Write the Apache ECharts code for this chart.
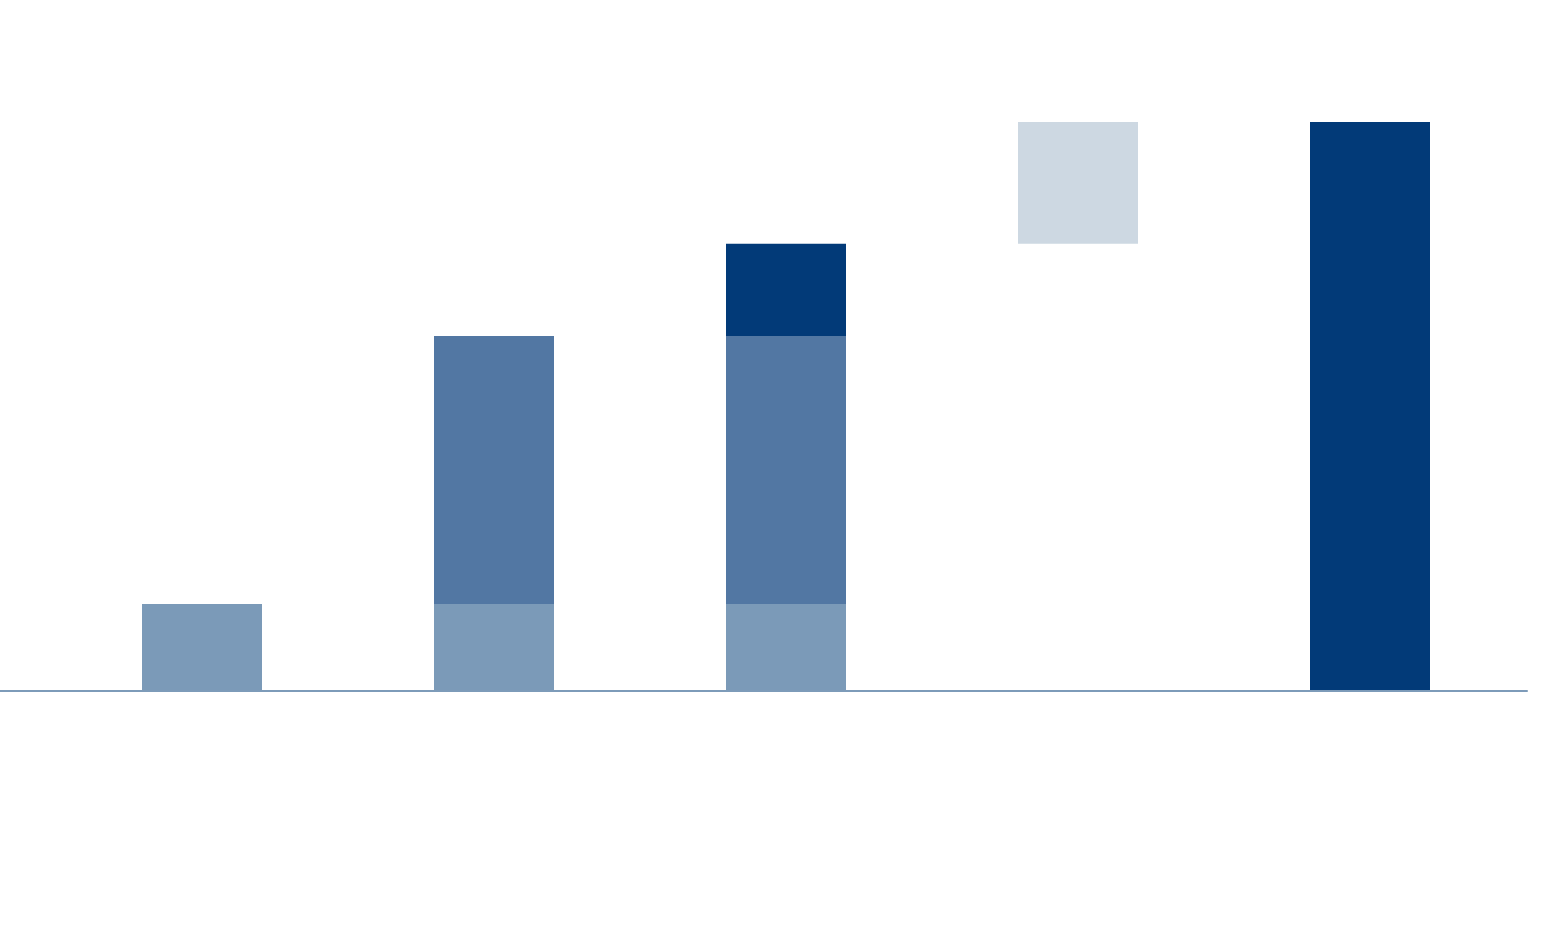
<!DOCTYPE html>
<html>
<head>
<meta charset="utf-8">
<title>Waterfall</title>
<script src="https://cdn.jsdelivr.net/npm/echarts@6/dist/echarts.min.js"></script>
<style>
  html, body { margin: 0; padding: 0; background: #fff; }
  #main { width: 1562px; height: 940px; }
</style>
</head>
<body>
<div id="main"></div>
<script>
// categories (no labels shown in the picture)
var categories = ['A', 'B', 'C', 'D', 'E'];
// invisible base under floating bars
var baseData = [0, 0, 0, 7.86, 0];
// stacked pieces
var lightData = [1.53, 1.53, 1.53, '-', '-'];
var midData = ['-', 4.71, 4.71, '-', '-'];
var darkData = ['-', '-', 1.62, '-', 10];
var greyData = ['-', '-', '-', 2.14, '-'];

var chart = echarts.init(document.getElementById('main'), null, { renderer: 'canvas' });

var option = {
  animation: false,
  backgroundColor: '#ffffff',
  grid: [
    { left: 56, right: 46, top: 122, bottom: 249 },
    // only carries the long baseline
    { left: 0, right: 35, top: 122, bottom: 249 }
  ],
  xAxis: [
    {
      type: 'category',
      data: categories,
      gridIndex: 0,
      axisLine: { show: false },
      axisTick: { show: false },
      axisLabel: { show: false }
    },
    {
      type: 'category',
      data: [''],
      gridIndex: 1,
      z: 10,
      axisLine: { show: true, lineStyle: { color: '#7d9bb9', width: 2 } },
      axisTick: { show: false },
      axisLabel: { show: false }
    }
  ],
  yAxis: [
    { type: 'value', gridIndex: 0, min: 0, max: 10, show: false, splitLine: { show: false } },
    { type: 'value', gridIndex: 1, min: 0, max: 10, show: false, splitLine: { show: false } }
  ],
  series: [
    {
      name: 'base', type: 'bar', stack: 'w', barWidth: 120,
      itemStyle: { color: 'transparent' }, data: baseData
    },
    {
      name: 'light', type: 'bar', stack: 'w', barWidth: 120,
      itemStyle: { color: '#7b9ab8' }, data: lightData
    },
    {
      name: 'mid', type: 'bar', stack: 'w', barWidth: 120,
      itemStyle: { color: '#5277a3' }, data: midData
    },
    {
      name: 'dark', type: 'bar', stack: 'w', barWidth: 120,
      itemStyle: { color: '#023a78' }, data: darkData
    },
    {
      name: 'grey', type: 'bar', stack: 'w', barWidth: 120,
      itemStyle: { color: '#cdd8e2' }, data: greyData
    }
  ]
};

chart.setOption(option);
</script>
</body>
</html>
